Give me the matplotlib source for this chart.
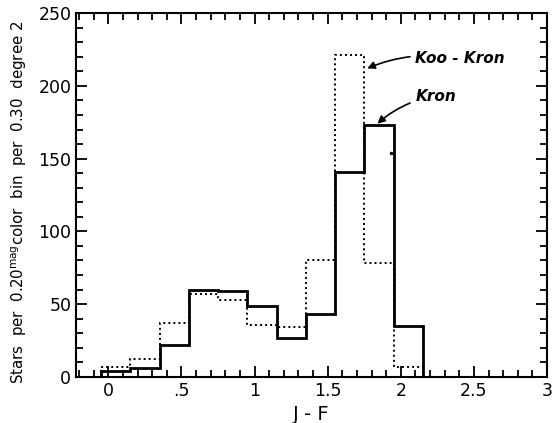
import numpy as np
import matplotlib.pyplot as plt
from matplotlib.ticker import MultipleLocator, FixedLocator

# bin edges in J-F (0.20 mag bins)
edges = [-0.05, 0.15, 0.35, 0.55, 0.75, 0.95, 1.15, 1.35, 1.55, 1.75, 1.95, 2.15]
kron = [4, 6, 22, 60, 59, 49, 27, 43, 141, 173, 35]
koo_kron = [7, 12, 37, 57, 53, 36, 34, 80, 221, 78, 7]

xticks = [0, 0.5, 1, 1.5, 2, 2.5, 3]
xtick_labels = ["0", ".5", "1", "1.5", "2", "2.5", "3"]
yticks = [0, 50, 100, 150, 200, 250]

fig = plt.figure(figsize=(5.6, 4.23), dpi=100)
ax = fig.add_axes([0.136, 0.109, 0.841, 0.86])

ax.stairs(kron, edges, color="black", linewidth=2.0, baseline=0)
ax.stairs(koo_kron, edges, color="black", linewidth=1.4, linestyle=(0, (1, 1.6)), baseline=0)
ax.plot([1.93], [154], "k.", markersize=3)

ax.set_xlim(-0.22, 3.0)
ax.set_ylim(0, 250)

ax.xaxis.set_major_locator(FixedLocator(xticks))
ax.set_xticklabels(xtick_labels)
ax.xaxis.set_minor_locator(MultipleLocator(0.1))
ax.yaxis.set_major_locator(FixedLocator(yticks))
ax.yaxis.set_minor_locator(MultipleLocator(10))
ax.tick_params(which="both", direction="in", top=True, right=True, width=1.3)
ax.tick_params(which="major", length=8, labelsize=12.5)
ax.tick_params(which="minor", length=5)
for s in ax.spines.values():
    s.set_linewidth(1.5)

ax.set_xlabel("J - F", fontsize=14, labelpad=4)
ax.set_ylabel(r"Stars  per  0.20$^{\rm mag}$color  bin  per  0.30  degree 2", fontsize=10.8, labelpad=5)
ax.yaxis.set_label_coords(-0.1, 0.48)

ax.annotate("Koo - Kron", xy=(1.77, 212), xytext=(2.1, 219),
            fontsize=11, fontstyle="italic", fontweight="bold", va="center",
            arrowprops=dict(arrowstyle="-|>", color="black", lw=1.2,
                            connectionstyle="arc3,rad=0.15", shrinkA=2, shrinkB=0))
ax.annotate("Kron", xy=(1.84, 174), xytext=(2.1, 193),
            fontsize=11, fontstyle="italic", fontweight="bold", va="center",
            arrowprops=dict(arrowstyle="-|>", color="black", lw=1.2,
                            connectionstyle="arc3,rad=0.15", shrinkA=2, shrinkB=0))

fig.savefig("out.png", dpi=100)
